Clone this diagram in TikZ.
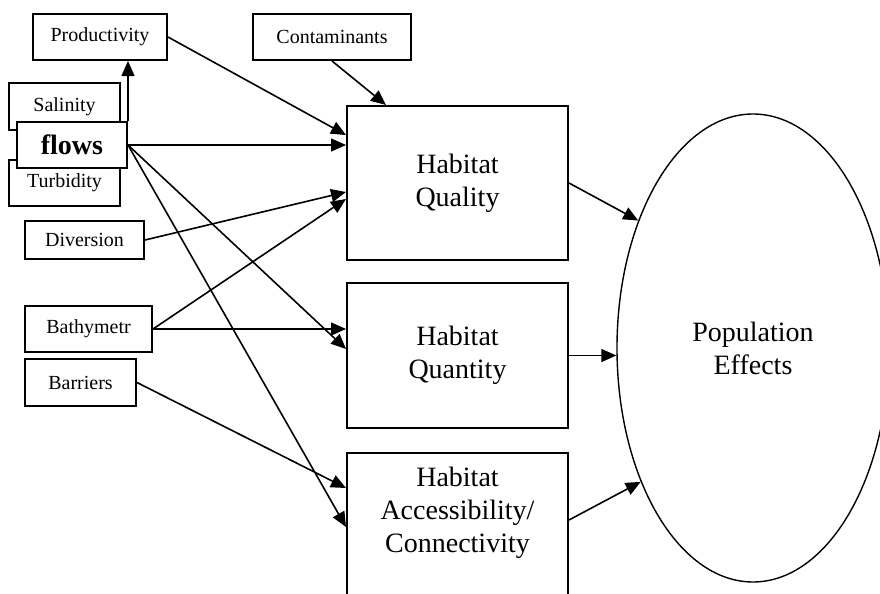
\documentclass[tikz,border=0pt]{standalone}
\usepackage{fontspec}
\setmainfont{Liberation Serif}
\usetikzlibrary{shapes.geometric,arrows.meta}

\begin{document}
\begin{tikzpicture}[x=0.5pt, y=-0.5pt,
    factor/.style={draw, fill=white, line width=1pt, inner sep=0pt, minimum height=23pt, font=\fontsize{10}{12}\selectfont},
    habitat/.style={draw, fill=white, line width=1pt, align=center, minimum width=110.5pt, font=\fontsize{14}{16.5}\selectfont},
    link/.style={-{Triangle[length=7.5pt,width=6.5pt]}, line width=0.8pt}]
    \useasboundingbox (0,0) rectangle (880,594);
    % Nodes
    \node[factor, minimum width=67pt] (prod) at (100,37) {Productivity};
    \node[factor, minimum width=79pt] (cont) at (332,37) {Contaminants};
    \node[factor, minimum width=55.5pt, minimum height=23.5pt] (sal) at (64.5,106.5) {Salinity};
    \node[factor, minimum width=55.5pt] (turb) at (64.5,183) {Turbidity};
    \node[factor, minimum width=55pt, font=\fontsize{14}{16}\selectfont\bfseries] (flows) at (72,145) {flows};
    \node[factor, minimum width=59.5pt, minimum height=19pt] (div) at (84.5,240) {Diversion};
    \node[factor, minimum width=63.5pt] (bath) at (88.5,329) {Bathymetr};
    \node[factor, minimum width=55.5pt, minimum height=23.5pt] (barr) at (80.5,382.5) {Barriers};
    \node[habitat, minimum height=77pt] (quality) at (457.5,183) {Habitat\\Quality};
    \node[habitat, minimum height=72.5pt] (quantity) at (457.5,355.5) {Habitat\\Quantity};
    \node[habitat, anchor=north, inner ysep=6.8pt, text depth=80pt] (access) at (457.5,452) {Habitat\\Accessibility/\\Connectivity};
    \node[ellipse, draw, line width=0.7pt, inner sep=0pt, minimum width=136pt, minimum height=234pt, align=center, font=\fontsize{14}{16.5}\selectfont] (pop) at (753,348) {Population\\Effects};
    % Edges
    \draw[link] (flows.north east) -- (flows.north east |- prod.south);
    \draw[link] (prod.east) -- ([yshift=-15pt]quality.north west);
    \draw[link] (cont.south) -- ([xshift=20pt]quality.north west);
    \draw[link] (flows.east) -- (flows.east -| quality.west);
    \draw[link] (flows.east) -- ([yshift=-33.5pt]quantity.north west);
    \draw[link] (flows.east) -- ([yshift=-37.5pt]access.north west);
    \draw[link] (div.east) -- ([yshift=-43.5pt]quality.north west);
    \draw[link] (bath.east) -- ([yshift=-47pt]quality.north west);
    \draw[link] (bath.east) -- (bath.east -| quantity.west);
    \draw[link] (barr.east) -- ([yshift=-18pt]access.north west);
    \draw[link] (quality.east) -- (pop.132);
    \draw[link] (quantity.east) -- (quantity.east -| pop.west);
    \draw[link] ([yshift=-34pt]access.north east) -- (pop.230);
\end{tikzpicture}
\end{document}
